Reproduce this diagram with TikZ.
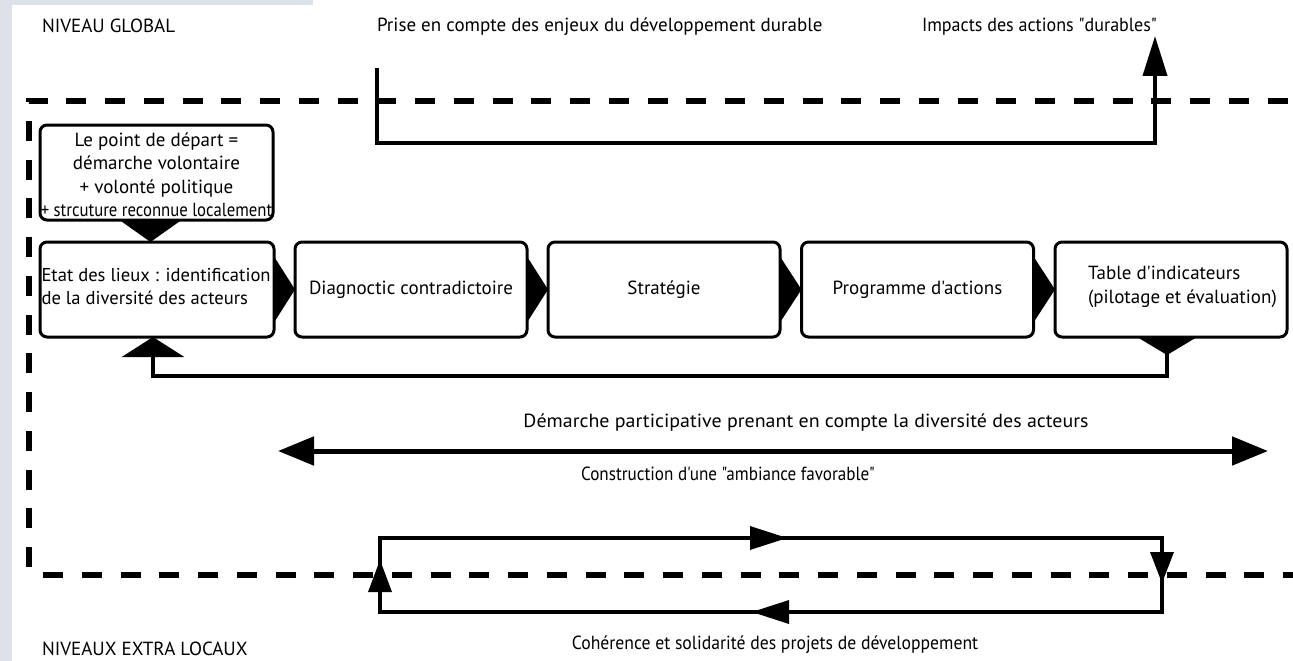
\documentclass[tikz,border=0pt]{standalone}
\usepackage{fontspec}
\usepackage{graphicx}
\setmainfont{PT Sans}[Ligatures=TeXOff]
\usetikzlibrary{arrows.meta,calc}
\definecolor{strip}{HTML}{DDE1EA}
\begin{document}
\begin{tikzpicture}[x=1pt,y=-1pt,
  lbl/.style={inner sep=0pt, outer sep=0pt, font=\fontsize{19}{23.5}\selectfont},
  box/.style={draw, line width=3pt, rounded corners=7pt, minimum width=232pt,
    minimum height=95pt, inner sep=0pt, outer sep=0pt, font=\fontsize{19}{23.5}\selectfont},
  flow/.style={line width=4pt},
  dashline/.style={line width=6pt, dash pattern=on 20pt off 18.75pt},
  bigtip/.style={-{Triangle[length=40pt,width=24pt]}}
]
\useasboundingbox (0,0) rectangle (1293,661);
\fill[white] (0,0) rectangle (1293,661);
\fill[strip] (0,0) rectangle (12,661);
\fill[strip] (0,0) rectangle (313,5);

% level labels
\node[lbl, anchor=west] (ng) at (42,26) {NIVEAU GLOBAL};
\node[lbl, anchor=west] (nel) at (42,649) {NIVEAUX EXTRA LOCAUX};
\node[lbl, anchor=west] (prise) at (377,27) {Prise en compte des enjeux du développement durable};
\node[lbl, anchor=west] (impacts) at (922,27) {\scalebox{0.95}[1]{Impacts des actions "durables"}};

% dashed frontiers
\coordinate (dv) at (28.5,567);
\coordinate (dc) at (28.5,101);
\coordinate (dr) at (1293,101);
\coordinate (db1) at (43,575);
\coordinate (db2) at (1293,575);
\draw[dashline] (dv) -- (dc) -- (dr);
\draw[dashline] (db1) -- (db2);

% top feedback
\coordinate (fA) at (377,68);
\coordinate (fB) at (377,143);
\coordinate (fC) at (1155,143);
\coordinate (fD) at (1155,36);
\draw[flow, bigtip] (fA) -- (fB) -- (fC) -- (fD);

% start box
\node[box, minimum width=233pt] (start) at (156.5,172.5) {};
\node[lbl, align=center] (startt) at (156.5,175) {Le point de départ =\\démarche volontaire\\+ volonté politique\\\scalebox{0.88}[1]{+ strcuture reconnue localement}};

% chain boxes
\node[box, minimum width=234pt] (b1) at (157,289.5) {};
\node[lbl, align=left, anchor=west, font=\fontsize{18.6}{23.5}\selectfont] (b1t) at (41.5,286.5) {Etat des lieux : identification\\de la diversité des acteurs};
\node[box] (b2) at (411,289.5) {Diagnoctic contradictoire};
\node[box] (b3) at (664,289.5) {Stratégie};
\node[box] (b4) at (917.5,289.5) {Programme d'actions};
\node[box] (b5) at (1171,289.5) {};
\node[lbl, align=left, anchor=west] (b5t) at (1088,287) {Table d'indicateurs\\(pilotage et évaluation)};

% start -> b1 pointer
\fill ($(start.south)+(-37,0)$) -- ($(start.south)+(25,0)$) -- ($(b1.north)+(-6.5,0)$) -- cycle;

% between boxes
\foreach \a/\b in {b1/b2,b2/b3,b3/b4,b4/b5}
  \fill ($(\a.east)+(0,-33)$) -- ($(\a.east)+(0,33)$) -- (\b.west) -- cycle;

% feedback from b5 to b1
\fill ($(b5.south)+(-34,0)$) -- ($(b5.south)+(26,0)$) -- ($(b5.south)+(-4,18)$) -- cycle;
\coordinate (gA) at ($(b5.south)+(-4,17)$);
\coordinate (gB) at ($(b5.south)+(-4,39)$);
\coordinate (gC) at ($(b1.south)+(-4,39)$);
\coordinate (gD) at ($(b1.south)+(-4,0)$);
\draw[flow, -{Triangle[length=20pt,width=62pt]}] (gA) -- (gB) -- (gC) -- (gD);

% participative double arrow
\coordinate (dL) at (278,451);
\coordinate (dR) at (1268,451);
\draw[line width=5pt, {Triangle[length=36pt,width=28pt]}-{Triangle[length=36pt,width=28pt]}] (dL) -- (dR);
\node[lbl] (dem) at (806,423) {\scalebox{1.05}[1]{Démarche participative prenant en compte la diversité des acteurs}};
\node[lbl] (cons) at (728,474) {\scalebox{0.9}[1]{Construction d'une "ambiance favorable"}};

% coherence loop
\coordinate (L1) at (380,538);
\coordinate (L2) at (1162,538);
\coordinate (L3) at (1162,612);
\coordinate (L4) at (380,612);
\draw[flow] (L1) -- (L2) -- (L3) -- (L4) -- cycle;
\fill (787,538) -- (750,526) -- (750,550) -- cycle;
\fill (1162,583) -- (1150,552) -- (1174,552) -- cycle;
\fill (752,612) -- (789,600) -- (789,624) -- cycle;
\fill (380,560) -- (368,592) -- (392,592) -- cycle;
\node[lbl] (coh) at (775,645) {\scalebox{0.93}[1]{Cohérence et solidarité des projets de développement}};
\end{tikzpicture}
\end{document}
